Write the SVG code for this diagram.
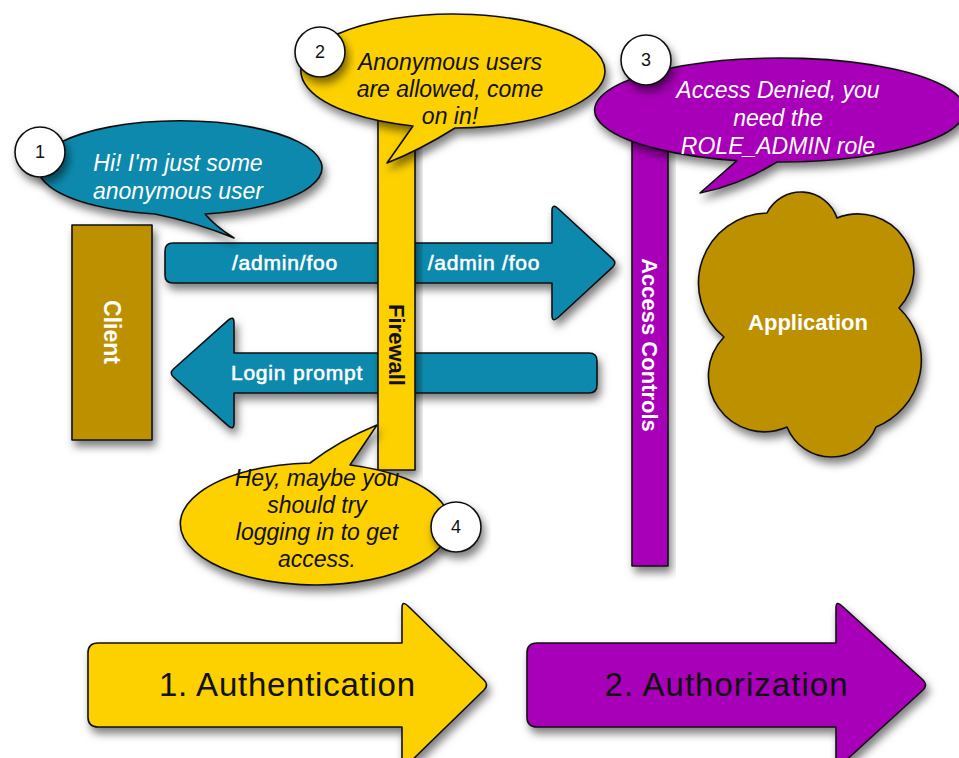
<svg xmlns="http://www.w3.org/2000/svg" width="959" height="758" viewBox="0 0 959 758">
<style>
.sh{filter:url(#ds)}
.ln{stroke:#111;stroke-width:1.6;stroke-linejoin:round}
.teal{fill:#0a89ad}
.yel{fill:#fdd000}
.pur{fill:#a800b8}
.gold{fill:#bd9000}
.num{font-family:"Liberation Sans",Arial,sans-serif;font-size:18px;fill:#111;text-anchor:middle}
.bub{font-family:"Liberation Sans",Arial,sans-serif;font-size:23px;font-style:italic;text-anchor:middle}
.lbl{font-family:"Liberation Sans",Arial,sans-serif;font-weight:bold;text-anchor:middle}
.arr{font-family:"Liberation Sans",Arial,sans-serif;font-size:21px;fill:#fff;stroke:#fff;stroke-width:0.6;letter-spacing:0.8px;text-anchor:middle}
.big{font-family:"Liberation Sans",Arial,sans-serif;font-size:33px;fill:#111;text-anchor:middle}
</style>
<defs>
<filter id="ds" x="-20%" y="-20%" width="140%" height="150%">
<feDropShadow dx="3" dy="6" stdDeviation="4" flood-color="#000" flood-opacity="0.5"/>
</filter>
</defs>
<rect width="959" height="758" fill="#fff"/>

<g id="client">
<rect class="gold ln sh" x="72" y="225" width="80" height="215"/>
<text class="lbl" font-size="23" fill="#fff" transform="translate(112,332) rotate(90)" dy="0.35em">Client</text>
</g>

<g id="connectors">
<g id="req-arrow">
<path class="teal ln sh" d="M173,243 L552,243 L552,211 Q552,203 558,208.5 L612.6,258.9 Q617,263 612.6,267.1 L558,317.5 Q552,323 552,315 L552,283 L173,283 Q165,283 165,275 L165,251 Q165,243 173,243 Z"/>
<text class="arr" x="285" y="270">/admin/foo</text>
<text class="arr" x="484" y="270">/admin /foo</text>
</g>
<g id="login-arrow">
<path class="teal ln sh" d="M589,353 L234,353 L234,323 Q234,315 228,320.3 L173.5,369 Q169,373 173.5,377 L228,425.7 Q234,431 234,423 L234,393 L589,393 Q597,393 597,385 L597,361 Q597,353 589,353 Z"/>
<text class="arr" x="297" y="380">Login prompt</text>
</g>
</g>

<g id="firewall">
<rect class="yel ln sh" x="378" y="110" width="37" height="360"/>
<text class="lbl" font-size="22" fill="#111" transform="translate(397,345) rotate(90)" dy="0.35em">Firewall</text>
</g>

<g id="access-controls">
<rect class="pur ln sh" x="632" y="140" width="36" height="426"/>
<text class="lbl" font-size="22" fill="#fff" transform="translate(650,345) rotate(90)" dy="0.35em">Access Controls</text>
</g>

<g id="application">
<path class="gold ln sh" d="M767,213 A38 38 0 0 1 837,218 A56 56 0 0 1 899,308 A72 72 0 0 1 876,427 A48 48 0 0 1 787,427 A56 56 0 0 1 724,337 A70 70 0 0 1 767,213 Z"/>
<text class="lbl" font-size="22" fill="#fff" x="808" y="330">Application</text>
</g>

<g id="bubble1">
<path class="teal ln sh" d="M155,214 Q195,222 234,238 Q215,226 205,214 A142 47 0 1 0 155,214 Z"/>
<text class="bub" fill="#fff"><tspan x="178" y="171">Hi! I'm just some</tspan><tspan x="178" y="199">anonymous user</tspan></text>
<circle class="ln sh" cx="40" cy="152" r="25" fill="#fff"/>
<text class="num" x="40" y="158">1</text>
</g>

<g id="bubble2">
<path class="yel ln sh" d="M413,126 L387,163 Q420,150 455,128 A152 57 0 1 0 413,126 Z"/>
<text class="bub" fill="#111"><tspan x="450" y="70">Anonymous users</tspan><tspan x="450" y="97">are allowed, come</tspan><tspan x="450" y="124">on in!</tspan></text>
<circle class="ln sh" cx="320" cy="52" r="25" fill="#fff"/>
<text class="num" x="320" y="58">2</text>
</g>

<g id="bubble3">
<path class="pur ln sh" d="M737,160.6 L700,193 Q740,185 777,162 A185 52 0 1 0 737,160.6 Z"/>
<text class="bub" fill="#fff"><tspan x="778" y="98">Access Denied, you</tspan><tspan x="778" y="126">need the</tspan><tspan x="778" y="154">ROLE_ADMIN role</tspan></text>
<circle class="ln sh" cx="646" cy="60" r="25" fill="#fff"/>
<text class="num" x="646" y="66">3</text>
</g>

<g id="bubble4">
<path class="yel ln sh" d="M350,465 L377,425 Q340,440 310,463 A135 61 0 1 0 350,465 Z"/>
<text class="bub" fill="#111"><tspan x="317" y="486">Hey, maybe you</tspan><tspan x="317" y="513">should try</tspan><tspan x="317" y="540">logging in to get</tspan><tspan x="317" y="567">access.</tspan></text>
<circle class="ln sh" cx="456" cy="527" r="25" fill="#fff"/>
<text class="num" x="456" y="533">4</text>
</g>

<g id="authentication">
<path class="yel ln sh" d="M98,643 L402,643 L402,608 Q402,600 408,606 L484,680 Q489,685 484,690 L408,764 Q402,770 402,762 L402,727 L98,727 Q88,727 88,717 L88,653 Q88,643 98,643 Z"/>
<text class="big" x="287" y="696" textLength="256" lengthAdjust="spacing">1. Authentication</text>
</g>

<g id="authorization">
<path class="pur ln sh" d="M537,643 L836,643 L836,608 Q836,600 842,606 L923,680 Q928,685 923,690 L842,764 Q836,770 836,762 L836,727 L537,727 Q527,727 527,717 L527,653 Q527,643 537,643 Z"/>
<text class="big" x="726" y="696" textLength="243" lengthAdjust="spacing">2. Authorization</text>
</g>
</svg>
